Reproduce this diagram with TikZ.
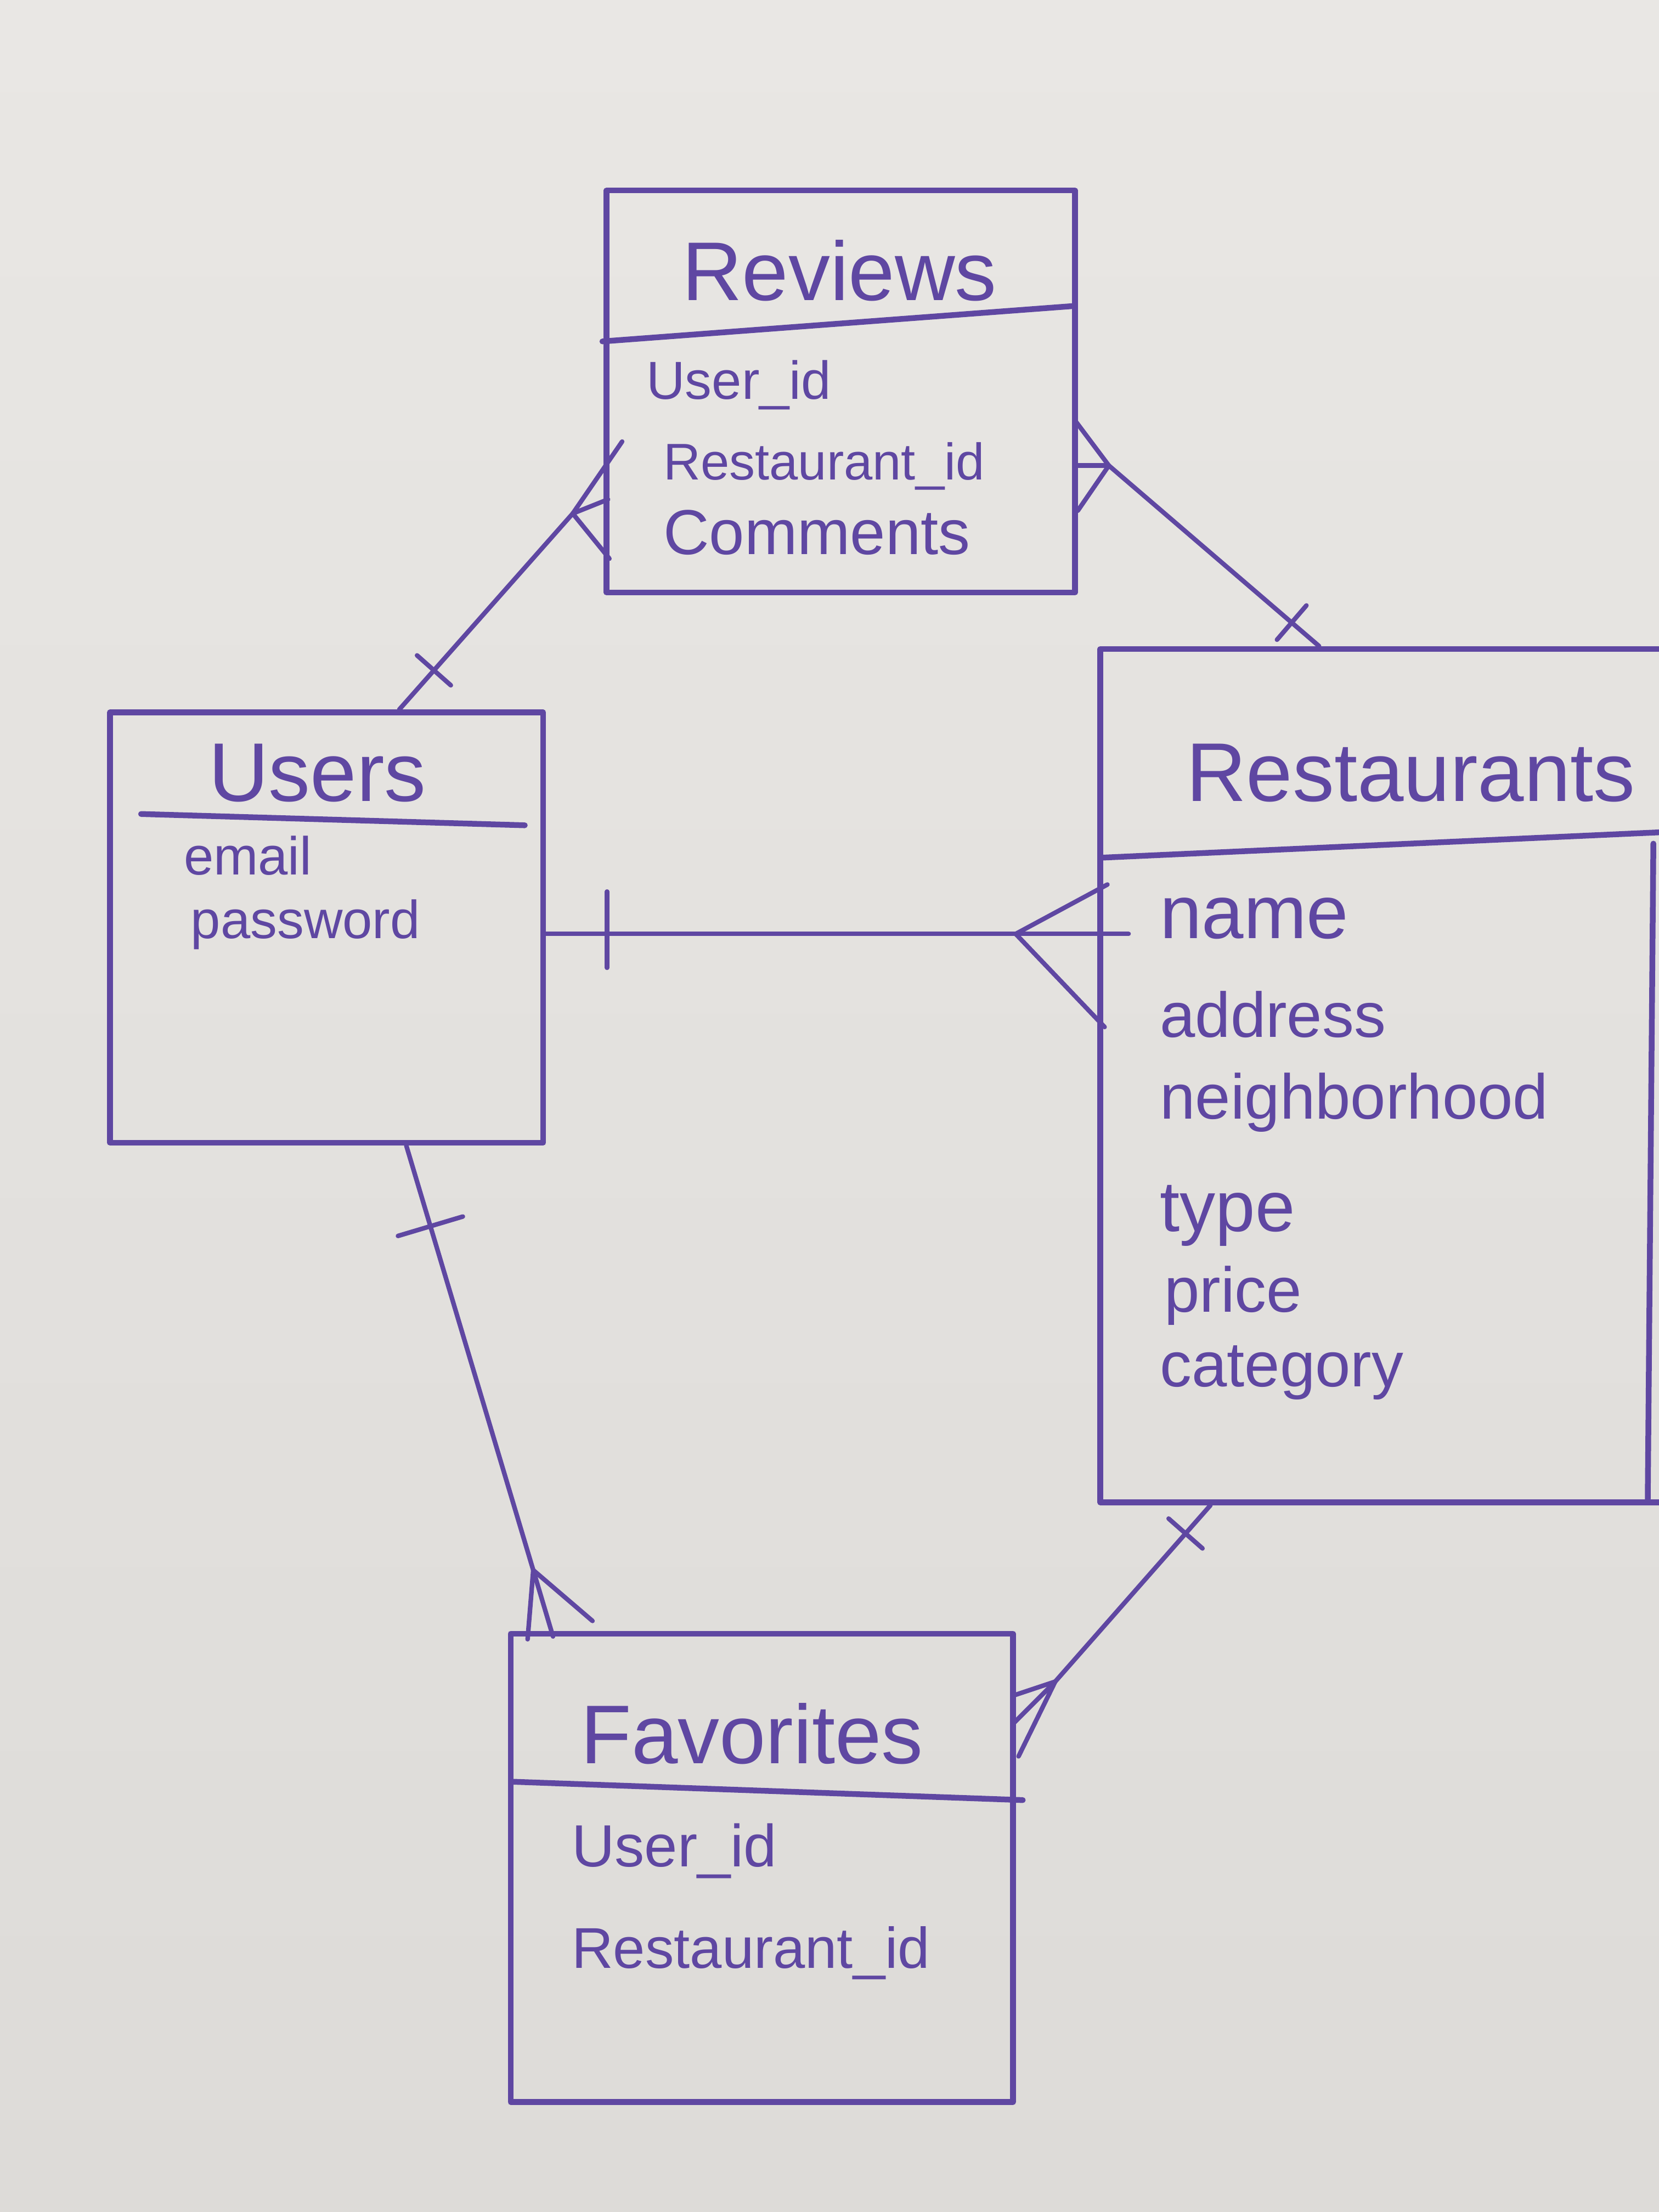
\documentclass[tikz,border=0pt]{standalone}
\usepackage{fontspec}
\setmainfont{Liberation Sans}
\usetikzlibrary{calc,fit}
\definecolor{boardtop}{HTML}{E9E7E4}
\definecolor{boardbot}{HTML}{DDDBD8}
\definecolor{ink}{HTML}{5F47A2}
\tikzset{
  inkline/.style={draw=ink, line width=2.9pt, line cap=round, line join=round},
  box/.style={inkline, rectangle, inner sep=0pt},
  conn/.style={draw=ink, line width=2.3pt, line cap=round, line join=round},
  titletext/.style={text=ink, anchor=base, inner sep=0pt, font=\fontsize{42}{48}\selectfont},
  fieldtext/.style={text=ink, anchor=base west, inner sep=0pt},
}
\begin{document}
\begin{tikzpicture}[x=0.025cm,y=-0.025cm]
\useasboundingbox (0,0) rectangle (1176,1568);
\shade[top color=boardtop, bottom color=boardbot] (0,0) rectangle (1176,1568);
\clip (0,0) rectangle (1176,1568);

% ---------- boxes ----------
\node[box, fit={(430,135) (762,420)}] (reviews) {};
\node[box, fit={(78,505) (385,810)}] (users) {};
\node[box, fit={(780,460) (1215,1065)}] (restaurants) {};
\node[box, fit={(362,1158) (718,1490)}] (favorites) {};

% dividers and extra edge
\draw[inkline] (427,242) -- (760,217);
\draw[inkline] (100,577) -- (372,585);
\draw[inkline] (780,608) -- (1176,590);
\draw[inkline] (1172,598) -- (1168,1065);
\draw[inkline] (364,1263) -- (725,1276);

% ---------- titles ----------
\node[titletext] (t-rev) at (595,213) {Reviews};
\node[titletext] (t-usr) at (225,568) {Users};
\node[titletext] (t-res) at (1000,568) {Restaurants};
\node[titletext] (t-fav) at (533,1250) {Favorites};

% ---------- fields ----------
\node[fieldtext, font=\fontsize{27}{30}\selectfont] (rv1) at (458,283) {User\_id};
\node[fieldtext, font=\fontsize{26}{30}\selectfont] (rv2) at (470,340) {Restaurant\_id};
\node[fieldtext, font=\fontsize{32}{36}\selectfont] (rv3) at (470,393) {Comments};

\node[fieldtext, font=\fontsize{27}{30}\selectfont] (us1) at (130,620) {email};
\node[fieldtext, font=\fontsize{27}{30}\selectfont] (us2) at (135,665) {password};

\node[fieldtext, font=\fontsize{38}{40}\selectfont] (rs1) at (822,665) {name};
\node[fieldtext, font=\fontsize{32}{36}\selectfont] (rs2) at (822,735) {address};
\node[fieldtext, font=\fontsize{32}{36}\selectfont] (rs3) at (822,793) {neighborhood};
\node[fieldtext, font=\fontsize{36}{40}\selectfont] (rs4) at (822,873) {type};
\node[fieldtext, font=\fontsize{32}{36}\selectfont] (rs5) at (825,930) {price};
\node[fieldtext, font=\fontsize{32}{36}\selectfont] (rs6) at (822,983) {category};

\node[fieldtext, font=\fontsize{30}{34}\selectfont] (fv1) at (405,1323) {User\_id};
\node[fieldtext, font=\fontsize{29}{34}\selectfont] (fv2) at (405,1395) {Restaurant\_id};

% ---------- connectors ----------
% Users -- Reviews (one to many)
\coordinate (uT) at (users.north -| 283,0);
\coordinate (rvJ) at (406,364);
\draw[conn] (uT) -- (rvJ);
\draw[conn] (rvJ) -- (441,313);
\draw[conn] (rvJ) -- (431,354);
\draw[conn] (rvJ) -- (432,396);
\coordinate (tk1) at ($(uT)!0.2!(rvJ)$);
\draw[conn] ($(tk1)!0.4cm!90:(rvJ)$) -- ($(tk1)!0.4cm!-90:(rvJ)$);

% Restaurants -- Reviews (one to many)
\coordinate (rsT) at (restaurants.north -| 935,0);
\coordinate (rsJ) at (786,330);
\draw[conn] (rsJ) -- (rsT);
\draw[conn] (rsJ) -- (762,298);
\draw[conn] (rsJ) -- (762,330);
\draw[conn] (rsJ) -- (764,362);
\coordinate (tk2) at ($(rsT)!0.13!(rsJ)$);
\draw[conn] ($(tk2)!0.4cm!90:(rsJ)$) -- ($(tk2)!0.4cm!-90:(rsJ)$);

% Users -- Restaurants (one to many)
\coordinate (uR) at (users.east |- 0,662);
\coordinate (rrJ) at (720,662);
\draw[conn] (uR) -- (rrJ);
\draw[conn] (rrJ) -- (785,627);
\draw[conn] (rrJ) -- (800,662);
\draw[conn] (rrJ) -- (783,728);
\coordinate (tk3) at ($(uR)!0.13!(rrJ)$);
\draw[conn] ($(tk3)!0.75cm!90:(rrJ)$) -- ($(tk3)!0.6cm!-90:(rrJ)$);

% Users -- Favorites (one to many)
\coordinate (uB) at (users.south -| 288,0);
\coordinate (fvJ) at (378,1113);
\draw[conn] (uB) -- (fvJ);
\draw[conn] (fvJ) -- (420,1149);
\draw[conn] (fvJ) -- (392,1160);
\draw[conn] (fvJ) -- (374,1162);
\coordinate (tk4) at ($(uB)!0.19!(fvJ)$);
\draw[conn] ($(tk4)!0.6cm!90:(fvJ)$) -- ($(tk4)!0.6cm!-90:(fvJ)$);

% Restaurants -- Favorites (one to many)
\coordinate (rsB) at (restaurants.south -| 858,0);
\coordinate (fvR) at (748,1192);
\draw[conn] (rsB) -- (fvR);
\draw[conn] (fvR) -- (718,1202);
\draw[conn] (fvR) -- (718,1222);
\draw[conn] (fvR) -- (722,1245);
\coordinate (tk5) at ($(rsB)!0.16!(fvR)$);
\draw[conn] ($(tk5)!0.4cm!90:(fvR)$) -- ($(tk5)!0.4cm!-90:(fvR)$);
\end{tikzpicture}
\end{document}
